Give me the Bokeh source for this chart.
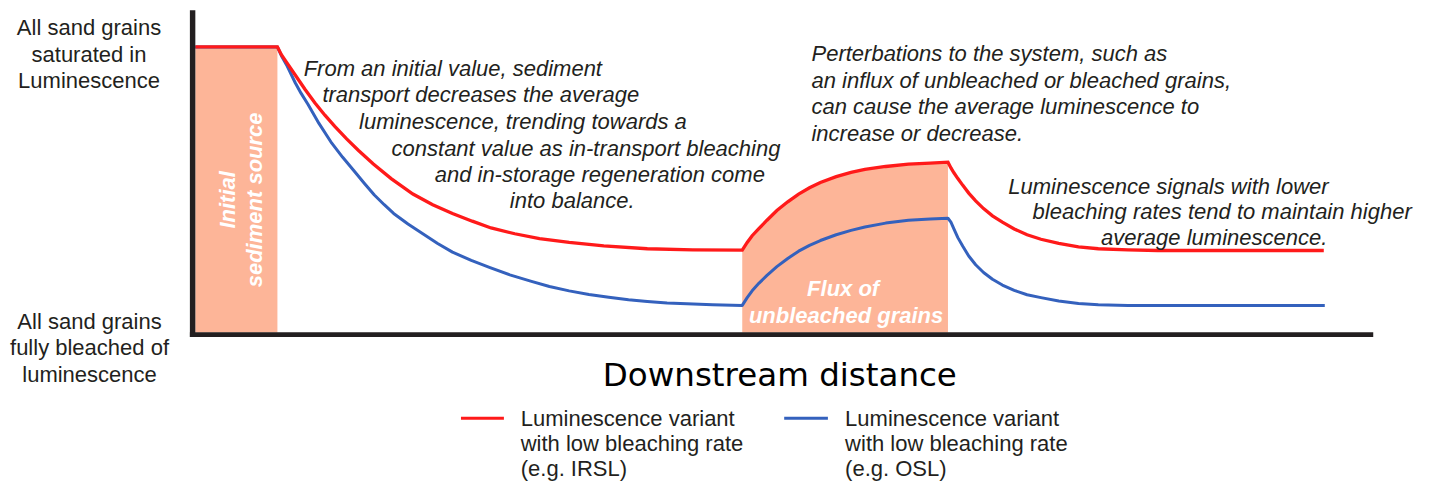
import math
from bokeh.plotting import figure
from bokeh.models import Range1d
from bokeh.core.properties import value
from bokeh.embed import file_html
from bokeh.resources import INLINE

# ---------------- data ----------------
# x: downstream distance (arbitrary units), y: average luminescence (arbitrary units)
red_x = [0, 83, 87, 93, 101, 111, 121, 131, 141, 153, 165, 180, 198, 220, 240, 260, 280,
         299, 323, 348, 378, 413, 457, 503, 553,
         558, 563, 570, 578, 588, 599, 610, 621, 632, 648, 663, 677, 698, 721, 743, 761,
         764, 767, 771, 776, 782, 789, 797, 806, 816, 828, 841, 855, 873, 893, 913, 943,
         973, 1141]
red_y = [295, 295, 287, 278, 266, 251, 237, 224.5, 213, 200, 188, 174, 159, 143, 132, 123, 115,
         108, 102, 97, 93, 89.5, 86.5, 85.3, 85,
         93, 100, 107.5, 116, 126, 135, 143, 149.5, 155, 161, 165.5, 168.5, 171.5, 174, 175, 176,
         170, 165, 159, 152, 144, 136, 128, 120.5, 114, 107, 101, 96.3, 92, 88.5, 86.5, 85.3,
         84.7, 84.7]

blue_x = [0, 83, 87, 93, 101, 107, 114, 125, 137, 149, 161, 171, 181, 191, 200.5, 215, 230,
          245, 260, 279, 298, 318, 339, 358, 378, 398, 418, 438, 457, 477, 497, 523, 553,
          558, 563, 570, 578, 588, 599, 610, 621, 632, 648, 663, 677, 698, 721, 743, 761,
          764, 767, 771, 776, 782, 789, 797, 806, 816, 828, 841, 855, 873, 893, 913, 943, 1142]
blue_y = [295, 295, 286, 275, 258, 247, 235.5, 216, 197, 181, 166.3, 154, 142, 132, 123, 112, 102,
          92, 83, 74.5, 67, 59.5, 53, 47.5, 43, 39.2, 36.3, 33.7, 32, 30.5, 29.7, 28.7, 28,
          36, 43, 51, 59, 68, 76.5, 84, 90, 95, 101, 105.5, 109, 113, 116, 117.2, 118,
          114, 107, 98, 89, 79, 70, 62, 55, 49, 43.5, 39, 36, 32.5, 30, 28.7, 28, 28]

source_start, source_end, saturation = 0, 83, 295
flux_start, flux_end = 553, 761
axis_x_end, axis_y_end = 1191, 333

series_labels = ["Luminescence variant\nwith low bleaching rate\n(e.g. IRSL)",
                 "Luminescence variant\nwith low bleaching rate\n(e.g. OSL)"]

RED = "#FF1A1A"
BLUE = "#3461BD"
SALMON = "#FDB598"
DARK = "#231F20"
FONT = value("Liberation Sans")

p = figure(width=1439, height=482, x_range=Range1d(-197, 1258), y_range=Range1d(-155, 343),
           output_backend="svg", toolbar_location=None, min_border=0,
           x_axis_location=None, y_axis_location=None)
p.grid.visible = False
p.outline_line_color = None
p.background_fill_color = "white"
p.border_fill_color = "white"

# shaded regions
p.quad(left=[source_start], right=[source_end], bottom=[0], top=[saturation],
       fill_color=SALMON, line_color=None)
fx = [x for x in red_x if flux_start <= x <= flux_end]
fy = [y for x, y in zip(red_x, red_y) if flux_start <= x <= flux_end]
p.varea(x=fx, y1=[0] * len(fx), y2=fy, fill_color=SALMON)

# curves
p.line(blue_x, blue_y, line_color=BLUE, line_width=3.0, line_join="round")
p.line(red_x, red_y, line_color=RED, line_width=3.3, line_join="miter")

# axes drawn as thick bars
p.quad(left=[-5.5, -5.5], right=[0, axis_x_end], bottom=[-4.7, -4.7], top=[axis_y_end, 0.3],
       fill_color=DARK, line_color=None)

def txt(xs, ys, texts, size="22px", style="normal", color=DARK, align="left", angle=0.0,
        font=FONT):
    p.text(x=xs, y=ys, text=texts, text_font=font, text_font_size=size,
           text_font_style=style, text_color=color, text_align=align,
           text_baseline="alphabetic", angle=angle)

# y-extreme labels
txt([-107.5] * 3, [315, 287, 260], ["All sand grains", "saturated in", "Luminescence"], align="center")
txt([-107] * 3, [11, -16, -43], ["All sand grains", "fully bleached of", "luminescence"], align="center")

# x label
txt([591], [-43.7], ["Downstream distance"], size="32.5px", color="#000000", align="center",
    font=value("DejaVu Sans"))

# annotation 1
txt([109.5, 128.5, 165.6, 198.4, 242, 318], [273, 245.7, 218, 190.3, 163, 136],
    ["From an initial value, sediment", "transport decreases the average",
     "luminescence, trending towards a", "constant value as in-transport bleaching",
     "and in-storage regeneration come", "into balance."], style="italic")
# annotation 2
txt([623] * 4, [288, 260.5, 233, 206],
    ["Perterbations to the system, such as", "an influx of unbleached or bleached grains,",
     "can cause the average luminescence to", "increase or decrease."], style="italic")
# annotation 3
txt([822, 846.6, 915.8], [151.3, 125, 98],
    ["Luminescence signals with lower", "bleaching rates tend to maintain higher",
     "average luminescence."], style="italic")

# labels inside the shaded regions
txt([655, 658], [45, 18], ["Flux of", "unbleached grains"], style="bold italic",
    color="white", align="center")
txt([33, 60], [137, 137], ["Initial", "sediment source"], style="bold italic",
    color="white", align="center", angle=math.pi / 2)

# legend
p.segment(x0=[268.6, 595.4], y0=[-88.5, -88.5], x1=[312, 639.6], y1=[-88.5, -88.5],
          line_color=[RED, BLUE], line_width=3)
for lx, lab in zip([329, 657], series_labels):
    lines = lab.split("\n")
    txt([lx] * len(lines), [-89, -115, -141][:len(lines)], lines)

open("out.html", "w").write(file_html(p, INLINE))
